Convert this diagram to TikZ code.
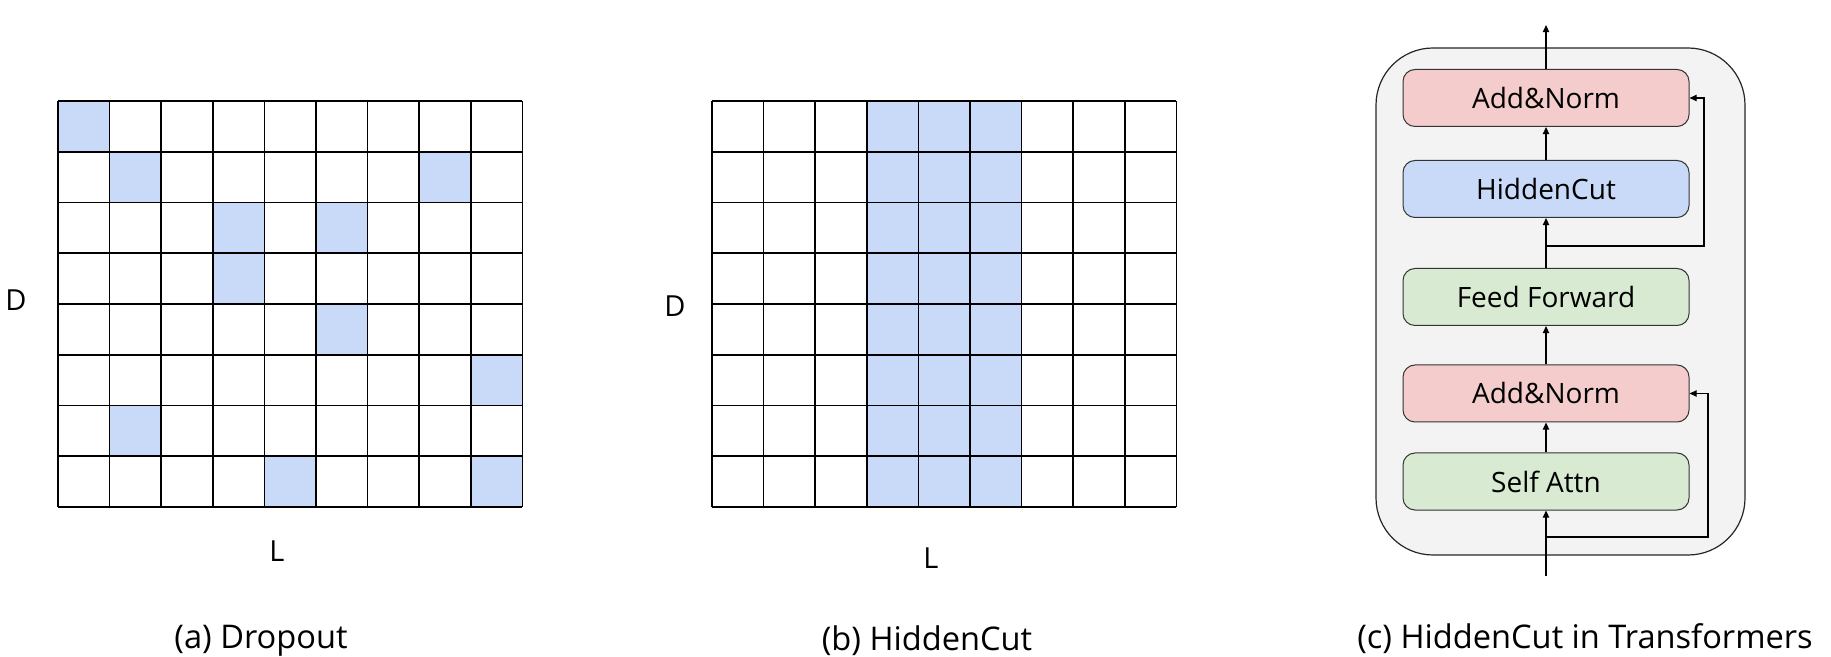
\documentclass[tikz,border=0pt]{standalone}
\usepackage{fontspec}
\setmainfont{Open Sans}
\usetikzlibrary{arrows.meta}
\definecolor{cutblue}{HTML}{C9DAF8}
\definecolor{normred}{HTML}{F4CCCC}
\definecolor{layergreen}{HTML}{D9EAD3}
\definecolor{blockgray}{HTML}{F3F3F3}
\tikzset{
    layer/.style={draw=black!80, line width=0.5pt, rounded corners=6pt,
        minimum width=143pt, minimum height=28.5pt,
        font=\fontsize{14}{16}\selectfont},
    flow/.style={-{Triangle[length=3.6pt,width=3.2pt]}, line width=0.6pt},
    caption/.style={font=\fontsize{16.3}{18}\selectfont, inner sep=0pt},
    axislabel/.style={font=\fontsize{14.5}{16}\selectfont}
}

\begin{document}
\begin{tikzpicture}[x=0.5pt, y=-0.5pt]
        \useasboundingbox (0,0) rectangle (1831,657);
        % (a) dropout: single cells dropped
        \begin{scope}[shift={(58,507)}, x=25.8pt, y=25.375pt]
            \foreach \c/\r in {0/0, 1/1, 7/1, 3/2, 5/2, 3/3, 5/4, 8/5, 1/6, 4/7, 8/7}
            {
                \fill[cutblue] (\c,7-\r) rectangle ++(1,1);
            }
            \draw[step=1, line width=0.8pt] (0,0) grid (9,8);
        \end{scope}
        \node[axislabel] (da) at (16,300) {D};
        \node[axislabel] (la) at (277,551) {L};
        \node[caption] (capa) at (261,641) {(a) Dropout};
        % (b) hiddencut: whole columns dropped
        \begin{scope}[shift={(712,507)}, x=25.8pt, y=25.375pt]
            \fill[cutblue] (3,0) rectangle (6,8);
            \draw[step=1, line width=0.8pt] (0,0) grid (9,8);
        \end{scope}
        \node[axislabel] (db) at (675,306) {D};
        \node[axislabel] (lb) at (931,558) {L};
        \node[caption] (capb) at (927,641) {(b) HiddenCut};
        % (c) transformer block
        \draw[fill=blockgray, draw=black!85, line width=0.6pt, rounded corners=28.5pt]
            (1376,48) rectangle (1745,555);
        \node[layer, fill=normred] (addtop) at (1546,98) {Add\&Norm};
        \node[layer, fill=cutblue] (hcut) at (1546,189) {HiddenCut};
        \node[layer, fill=layergreen] (ffn) at (1546,297) {Feed Forward};
        \node[layer, fill=normred] (addbot) at (1546,393.5) {Add\&Norm};
        \node[layer, fill=layergreen] (attn) at (1546,481.5) {Self Attn};
        \coordinate (input) at (1546,576);
        \coordinate (output) at (1546,25);
        \coordinate (skipffn) at (1546,246);
        \coordinate (skipattn) at (1546,537);
        % main path
        \draw[flow] (input) -- (attn);
        \draw[flow] (attn) -- (addbot);
        \draw[flow] (addbot) -- (ffn);
        \draw[flow] (ffn) -- (hcut);
        \draw[flow] (hcut) -- (addtop);
        \draw[flow] (addtop) -- (output);
        % residual connections
        \draw[flow] (skipattn) -- ++(162,0) |- (addbot.east);
        \draw[flow] (skipffn) -- ++(158,0) |- (addtop.east);
        \node[caption] (capc) at (1585,639) {(c) HiddenCut in Transformers};
\end{tikzpicture}
\end{document}
